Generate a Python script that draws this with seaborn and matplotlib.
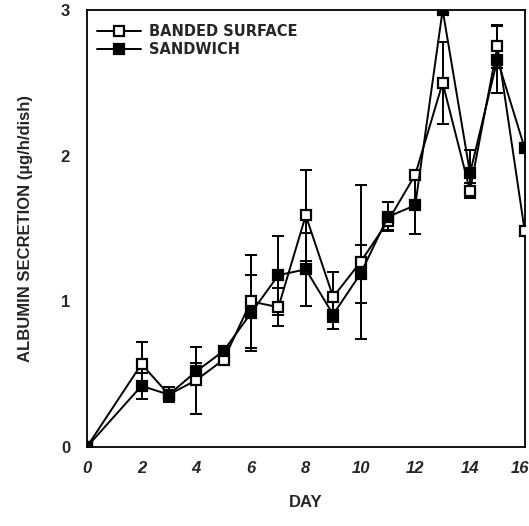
import matplotlib
matplotlib.use("Agg")
import matplotlib.pyplot as plt
import matplotlib.transforms as mtransforms
import seaborn as sns
import pandas as pd
import numpy as np

days = [0, 2, 3, 4, 5, 6, 7, 8, 9, 10, 11, 12, 13, 14, 15, 16]
banded = [0.0, 0.57, 0.36, 0.46, 0.60, 1.00, 0.96, 1.59, 1.03, 1.27, 1.55, 1.87, 2.50, 1.76, 2.75, 1.48]
banded_err = [0.0, 0.15, 0.03, 0.23, 0.02, 0.32, 0.13, 0.31, 0.17, 0.53, 0.06, 0.03, 0.28, 0.05, 0.15, 0.03]
sandwich = [0.0, 0.42, 0.36, 0.52, 0.66, 0.92, 1.18, 1.22, 0.91, 1.19, 1.58, 1.66, 3.00, 1.88, 2.66, 2.05]
sandwich_err = [0.0, 0.09, 0.05, 0.06, 0.02, 0.26, 0.27, 0.25, 0.10, 0.20, 0.10, 0.20, 0.03, 0.16, 0.23, 0.03]
labels = ["BANDED SURFACE", "SANDWICH"]

sns.set_theme(style="white")
plt.rcParams['font.family'] = ['Liberation Sans', 'DejaVu Sans']

fig = plt.figure(figsize=(5.29, 5.26), dpi=100)
ax = fig.add_axes([0.164, 0.150, 0.828, 0.831])

df = pd.DataFrame({"day": days + days,
                   "val": banded + sandwich,
                   "series": [labels[0]] * len(days) + [labels[1]] * len(days)})

ax.errorbar(days, banded, yerr=banded_err, fmt='none', ecolor='black', elinewidth=1.4, capsize=4, capthick=1.4, zorder=2)
ax.errorbar(days, sandwich, yerr=sandwich_err, fmt='none', ecolor='black', elinewidth=1.4, capsize=4, capthick=1.4, zorder=2)

sns.lineplot(data=df[df.series == labels[0]], x="day", y="val", ax=ax, color="black",
             marker="s", markersize=7.3, markerfacecolor="white", markeredgecolor="black",
             markeredgewidth=1.6, linewidth=1.4, label=labels[0], zorder=3)
sns.lineplot(data=df[df.series == labels[1]], x="day", y="val", ax=ax, color="black",
             marker="s", markersize=7.3, markerfacecolor="black", markeredgecolor="black",
             markeredgewidth=1.6, linewidth=1.4, label=labels[1], zorder=4)

ax.set_xlim(0, 16)
ax.set_ylim(0, 3)
ax.set_xticks(range(0, 17, 2))
ax.set_yticks([0, 1, 2, 3])
ax.set_xticklabels([str(v) for v in range(0, 17, 2)], fontsize=12, fontweight='bold', style='italic')
ax.set_yticklabels(['0', '1', '2', '3'], fontsize=12, fontweight='bold')
ax.tick_params(axis='both', direction='in', length=11, width=1.3, color='black', pad=12)
ax.tick_params(axis='x', pad=10)
last = ax.get_xticklabels()[-1]
last.set_horizontalalignment('right')
last.set_transform(last.get_transform() + mtransforms.ScaledTranslation(4 / 100, 0, fig.dpi_scale_trans))
for s in ax.spines.values():
    s.set_color('black')
    s.set_linewidth(1.3)

ax.set_xlabel("DAY", fontsize=12, fontweight='bold', labelpad=14)
ax.set_ylabel("ALBUMIN SECRETION (µg/h/dish)", fontsize=12, fontweight='bold', labelpad=20)

leg = ax.legend(loc='upper left', frameon=False, handlelength=3.0,
                handletextpad=0.6, borderaxespad=0.9, labelspacing=0.25,
                bbox_to_anchor=(-0.02, 1.012),
                prop={'family': 'DejaVu Sans', 'weight': 'bold', 'size': 10.5})

fig.savefig("out.png", dpi=100, facecolor='white')
